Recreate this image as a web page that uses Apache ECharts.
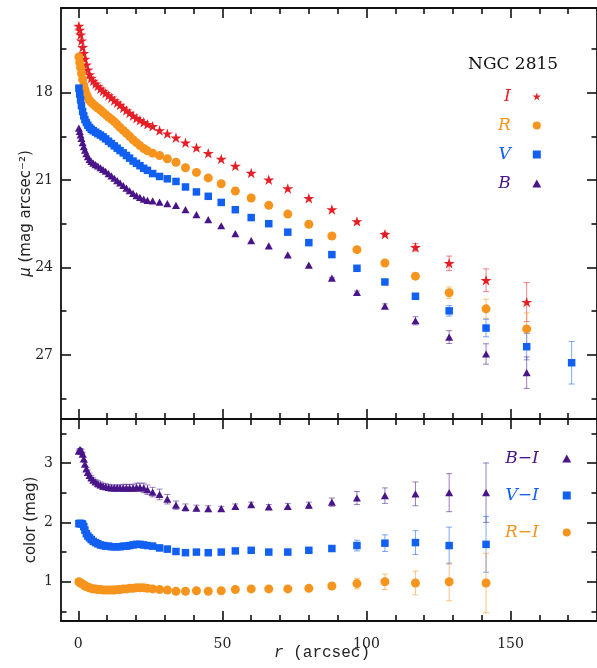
<!DOCTYPE html>
<html>
  <head>
    <meta charset="utf-8" />
    <title>NGC 2815 profiles</title>
    <script src="https://cdn.jsdelivr.net/npm/echarts@6/dist/echarts.min.js"></script>
  </head>
  <body style="margin:0; background:#fff">
    <div id="main" style="width:597px;height:668px;background-color:white"></div>
    <script type="text/javascript">
      // radii (arcsec) shared by every profile
      var radius = [0.2, 0.5, 0.8, 1.1, 1.5, 1.9, 2.3, 2.8, 3.3, 3.9, 4.5, 5.2, 6.0, 6.8, 7.7, 8.6, 9.5, 10.5, 11.5, 12.5,
        13.5, 14.5, 15.6, 16.7, 17.8, 19.0, 20.2, 21.4, 22.7, 24.0,
        25.8, 28.2, 30.9, 33.9, 37.2, 41.0, 45.1, 49.6, 54.5, 60.0, 66.1, 72.7, 80.0, 88.0, 96.7, 106.4, 117.0, 128.7,
        141.5, 155.6, 171.2];

      // surface brightness (mag arcsec^-2)
      var muI = [15.72, 15.85, 16.02, 16.22, 16.45, 16.65, 16.85, 17.05, 17.22, 17.38, 17.5, 17.6, 17.7, 17.78, 17.87, 17.95, 18.02, 18.1, 18.18, 18.27,
        18.35, 18.43, 18.53, 18.62, 18.7, 18.8, 18.88, 18.95, 19.02, 19.09,
        19.16, 19.30, 19.41, 19.55, 19.72, 19.89, 20.08, 20.28, 20.52, 20.76, 20.99, 21.29, 21.63, 22.01, 22.42, 22.86, 23.31, 23.86,
        24.44, 25.19, null];
      var muR = [16.78, 16.98, 17.15, 17.35, 17.55, 17.75, 17.9, 18.05, 18.17, 18.27, 18.34, 18.4, 18.47, 18.53, 18.6, 18.68, 18.76, 18.84, 18.92, 19.0,
        19.1, 19.2, 19.3, 19.4, 19.5, 19.62, 19.72, 19.82, 19.92, 20.0,
        20.08, 20.16, 20.27, 20.39, 20.58, 20.74, 20.93, 21.13, 21.38, 21.62, 21.87, 22.17, 22.52, 22.92, 23.39, 23.85, 24.30, 24.87,
        25.42, 26.11, null];
      var muV = [17.85, 18.05, 18.25, 18.45, 18.65, 18.8, 18.93, 19.03, 19.12, 19.2, 19.26, 19.31, 19.36, 19.41, 19.46, 19.52, 19.59, 19.67, 19.75, 19.83,
        19.91, 19.99, 20.07, 20.16, 20.25, 20.35, 20.43, 20.51, 20.6, 20.67,
        20.78, 20.88, 20.96, 21.05, 21.24, 21.41, 21.56, 21.77, 22.02, 22.29, 22.50, 22.79, 23.15, 23.56, 24.03, 24.50, 24.99, 25.49,
        26.08, 26.72, 27.27];
      var muB = [19.22, 19.33, 19.45, 19.57, 19.72, 19.86, 19.98, 20.1, 20.2, 20.29, 20.36, 20.42, 20.47, 20.52, 20.58, 20.64, 20.7, 20.78, 20.86, 20.94,
        21.02, 21.1, 21.19, 21.28, 21.37, 21.46, 21.54, 21.6, 21.66, 21.7,
        21.72, 21.76, 21.81, 21.87, 22.02, 22.19, 22.36, 22.57, 22.84, 23.08, 23.26, 23.57, 23.92, 24.37, 24.86, 25.33, 25.83, 26.39,
        26.97, 27.61, null];

      // errors on mu, only the outer points have visible bars
      var errI = [0, 0, 0, 0, 0, 0, 0, 0, 0, 0, 0, 0, 0, 0, 0, 0, 0, 0, 0, 0, 0, 0, 0, 0, 0, 0, 0, 0, 0, 0,
        0, 0, 0, 0, 0, 0, 0, 0, 0, 0, 0, 0, 0, 0, 0.03, 0.06, 0.13, 0.25, 0.39, 0.67, 0];
      var errR = [0, 0, 0, 0, 0, 0, 0, 0, 0, 0, 0, 0, 0, 0, 0, 0, 0, 0, 0, 0, 0, 0, 0, 0, 0, 0, 0, 0, 0, 0,
        0, 0, 0, 0, 0, 0, 0, 0, 0, 0, 0, 0, 0, 0, 0.03, 0.05, 0.1, 0.2, 0.33, 0.55, 0];
      var errV = [0, 0, 0, 0, 0, 0, 0, 0, 0, 0, 0, 0, 0, 0, 0, 0, 0, 0, 0, 0, 0, 0, 0, 0, 0, 0, 0, 0, 0, 0,
        0, 0, 0, 0, 0, 0, 0, 0, 0, 0, 0, 0, 0, 0, 0.03, 0.05, 0.1, 0.18, 0.3, 0.45, 0.73];
      var errB = [0, 0, 0, 0, 0, 0, 0, 0, 0, 0, 0, 0, 0, 0, 0, 0, 0, 0, 0, 0, 0, 0, 0, 0, 0, 0, 0, 0, 0, 0,
        0, 0, 0, 0, 0, 0, 0, 0, 0, 0, 0, 0, 0, 0.03, 0.05, 0.08, 0.14, 0.22, 0.35, 0.54, 0];

      // colour profiles (mag)
      var colBI = [3.2, 3.22, 3.22, 3.2, 3.15, 3.07, 2.98, 2.9, 2.84, 2.79, 2.75, 2.71, 2.68, 2.65, 2.63, 2.61, 2.6, 2.59, 2.58, 2.58,
        2.58, 2.58, 2.58, 2.58, 2.58, 2.58, 2.59, 2.59, 2.58, 2.55,
        2.51, 2.47, 2.39, 2.29, 2.25, 2.24, 2.23, 2.23, 2.27, 2.30, 2.26, 2.27, 2.29, 2.34, 2.41, 2.45, 2.48, 2.50, 2.50, null, null];
      var colVI = [1.98, 1.98, 1.98, 1.98, 1.97, 1.93, 1.87, 1.81, 1.77, 1.74, 1.71, 1.68, 1.66, 1.64, 1.62, 1.61, 1.6, 1.6, 1.59, 1.59,
        1.59, 1.59, 1.6, 1.6, 1.61, 1.62, 1.63, 1.63, 1.62, 1.61,
        1.60, 1.57, 1.55, 1.51, 1.49, 1.50, 1.49, 1.50, 1.52, 1.53, 1.50, 1.50, 1.53, 1.56, 1.61, 1.65, 1.66, 1.61, 1.63, null, null];
      var colRI = [1.0, 0.99, 0.98, 0.97, 0.96, 0.95, 0.93, 0.92, 0.91, 0.9, 0.89, 0.88, 0.88, 0.87, 0.87, 0.86, 0.86, 0.86, 0.86, 0.86,
        0.87, 0.87, 0.88, 0.88, 0.89, 0.89, 0.9, 0.9, 0.9, 0.89,
        0.88, 0.87, 0.86, 0.84, 0.84, 0.85, 0.84, 0.85, 0.87, 0.88, 0.88, 0.88, 0.89, 0.93, 0.97, 1.0, 0.98, 1.0, 0.98, null, null];

      var errBI = [0.02, 0.02, 0.02, 0.03, 0.03, 0.03, 0.03, 0.03, 0.04, 0.04, 0.04, 0.04, 0.04, 0.05, 0.05, 0.05, 0.05, 0.05, 0.05, 0.05,
        0.05, 0.05, 0.06, 0.06, 0.06, 0.06, 0.07, 0.07, 0.08, 0.08,
        0.08, 0.09, 0.08, 0.07, 0.06, 0.05, 0.05, 0.04, 0.04, 0.04, 0.04, 0.05, 0.05, 0.07, 0.11, 0.13, 0.2, 0.32, 0.5, 0, 0];
      var errVI = [0.02, 0.02, 0.02, 0.02, 0.02, 0.02, 0.02, 0.03, 0.03, 0.03, 0.03, 0.03, 0.03, 0.03, 0.03, 0.03, 0.03, 0.03, 0.03, 0.03,
        0.03, 0.03, 0.04, 0.04, 0.04, 0.04, 0.05, 0.05, 0.05, 0.05,
        0.05, 0.05, 0.05, 0.04, 0.04, 0.04, 0.03, 0.03, 0.03, 0.03, 0.03, 0.03, 0.04, 0.05, 0.09, 0.14, 0.2, 0.31, 0.47, 0, 0];
      var errRI = [0.02, 0.02, 0.02, 0.02, 0.02, 0.02, 0.02, 0.03, 0.03, 0.03, 0.03, 0.03, 0.03, 0.03, 0.03, 0.03, 0.03, 0.03, 0.03, 0.03,
        0.03, 0.03, 0.04, 0.04, 0.04, 0.04, 0.05, 0.05, 0.05, 0.05,
        0.05, 0.05, 0.05, 0.04, 0.04, 0.04, 0.03, 0.03, 0.03, 0.03, 0.03, 0.03, 0.04, 0.05, 0.09, 0.13, 0.2, 0.32, 0.5, 0, 0];

      // ticks
      var xMajor = [0, 50, 100, 150];
      var xMinor = [10, 20, 30, 40, 60, 70, 80, 90, 110, 120, 130, 140, 160, 170];
      var muMajor = [18, 21, 24, 27];
      var muMinor = [16.5, 19.5, 22.5, 25.5, 28.5];
      var colMajor = [1, 2, 3];
      var colMinor = [0.5, 1.5, 2.5, 3.5];

      var RED = '#e61e26';
      var ORANGE = '#f7941d';
      var BLUE = '#1160f2';
      var PURPLE = '#4a1489';
      var STAR = 'path://M50 0 L61.23 34.55 L97.55 34.55 L68.17 55.9 L79.39 90.45 L50 69.1 L20.61 90.45 L31.83 55.9 L2.45 34.55 L38.77 34.55 Z';
      var SQUARE = 'path://M0 0 L10 0 L10 10 L0 10 Z';
      var TRIANGLE = 'path://M5 0 L10 9 L0 9 Z';
      var INK = '#111';
      var SERIF = 'DejaVu Serif';

      var myChart = echarts.init(document.getElementById('main'));

      // one axis per tick family, so major and minor ticks can have their own length
      function makeAxis(kind, grid, pos, ticks, len, showLine) {
        var ax = {
          type: 'value',
          gridIndex: grid,
          position: pos,
          splitLine: { show: false },
          axisLine: { show: showLine, onZero: false, lineStyle: { color: INK, width: 1.8 } },
          axisTick: { show: true, inside: true, length: len, customValues: ticks, lineStyle: { color: INK, width: 1.6 } },
          axisLabel: { show: false }
        };
        if (kind === 'x') {
          ax.min = -6;
          ax.max = 180;
        } else if (grid === 0) {
          ax.min = 15.1;
          ax.max = 29.2;
          ax.inverse = true;
        } else {
          ax.min = 0.34;
          ax.max = 3.74;
        }
        return ax;
      }

      var tickLabel = { fontFamily: SERIF, fontSize: 14, color: '#222' };

      var xAxes = [];
      var yAxes = [];
      [0, 1].forEach(function (g) {
        var xb = makeAxis('x', g, 'bottom', xMajor, 10, true);
        if (g === 1) {
          xb.axisLabel = Object.assign({ show: true, margin: 16, customValues: xMajor }, tickLabel);
          xb.name = '{i|r} (arcsec)';
          xb.nameLocation = 'middle';
          xb.nameGap = 24;
          xb.nameMoveOverlap = false;
          xb.nameTextStyle = {
            fontFamily: 'Liberation Mono', fontSize: 16, color: '#222', padding: [0, 14, 0, 0],
            rich: { i: { fontFamily: 'Liberation Mono', fontSize: 16, fontStyle: 'italic', color: '#222' } }
          };
        }
        xAxes.push(xb);
        xAxes.push(makeAxis('x', g, 'top', xMajor, 10, true));
        xAxes.push(makeAxis('x', g, 'bottom', xMinor, 6, false));
        xAxes.push(makeAxis('x', g, 'top', xMinor, 6, false));

        var major = g === 0 ? muMajor : colMajor;
        var minor = g === 0 ? muMinor : colMinor;
        var yl = makeAxis('y', g, 'left', major, 10, true);
        yl.axisLabel = Object.assign({ show: true, margin: 8, customValues: major }, tickLabel);
        yl.name = g === 0 ? '{i|μ} (mag arcsec⁻²)' : 'color (mag)';
        yl.nameLocation = 'middle';
        yl.nameGap = g === 0 ? 27 : 22;
        yl.nameMoveOverlap = false;
        yl.nameTextStyle = {
          fontFamily: 'DejaVu Sans', fontSize: 15, color: '#222',
          rich: { i: { fontFamily: 'DejaVu Sans', fontSize: 15, fontStyle: 'italic', color: '#222' } }
        };
        yAxes.push(yl);
        yAxes.push(makeAxis('y', g, 'right', major, 10, true));
        yAxes.push(makeAxis('y', g, 'left', minor, 5.5, false));
        yAxes.push(makeAxis('y', g, 'right', minor, 5.5, false));
      });

      function errorBar(params, api) {
        var x = api.value(0), y = api.value(1), e = api.value(2);
        var a = api.coord([x, y - e]);
        var b = api.coord([x, y + e]);
        var st = { stroke: api.visual('color'), lineWidth: 1, opacity: 0.55 };
        return {
          type: 'group',
          children: [
            { type: 'line', shape: { x1: a[0], y1: a[1], x2: b[0], y2: b[1] }, style: st },
            { type: 'line', shape: { x1: a[0] - 3, y1: a[1], x2: a[0] + 3, y2: a[1] }, style: st },
            { type: 'line', shape: { x1: b[0] - 3, y1: b[1], x2: b[0] + 3, y2: b[1] }, style: st }
          ]
        };
      }

      var profiles = [
        { name: 'I', grid: 0, vals: muI, errs: errI, color: RED, symbol: STAR, size: 11 },
        { name: 'R', grid: 0, vals: muR, errs: errR, color: ORANGE, symbol: 'circle', size: 9 },
        { name: 'V', grid: 0, vals: muV, errs: errV, color: BLUE, symbol: SQUARE, size: 7.5 },
        { name: 'B', grid: 0, vals: muB, errs: errB, color: PURPLE, symbol: TRIANGLE, size: 8 },
        { name: 'B−I', grid: 1, vals: colBI, errs: errBI, color: PURPLE, symbol: TRIANGLE, size: 8 },
        { name: 'V−I', grid: 1, vals: colVI, errs: errVI, color: BLUE, symbol: SQUARE, size: 7.5 },
        { name: 'R−I', grid: 1, vals: colRI, errs: errRI, color: ORANGE, symbol: 'circle', size: 9 }
      ];

      var series = [];
      profiles.forEach(function (p) {
        var bars = [];
        radius.forEach(function (r, i) {
          if (p.vals[i] != null && p.errs[i] > 0) bars.push([r, p.vals[i], p.errs[i]]);
        });
        series.push({
          name: p.name + ' err',
          type: 'custom',
          xAxisIndex: p.grid * 4,
          yAxisIndex: p.grid * 4,
          itemStyle: { color: p.color },
          renderItem: errorBar,
          encode: { x: 0, y: 1 },
          silent: true,
          data: bars
        });
      });
      profiles.forEach(function (p) {
        var pts = [];
        radius.forEach(function (r, i) {
          if (p.vals[i] != null) pts.push([r, p.vals[i]]);
        });
        series.push({
          name: p.name,
          type: 'scatter',
          xAxisIndex: p.grid * 4,
          yAxisIndex: p.grid * 4,
          symbol: p.symbol,
          symbolSize: p.size,
          symbolKeepAspect: true,
          itemStyle: { color: p.color, opacity: 1 },
          data: pts
        });
      });

      function legendItems(list) {
        return list.map(function (p) {
          return { name: p.name, icon: p.symbol, textStyle: { color: p.color } };
        });
      }

      var option = {
        animation: false,
        backgroundColor: '#fff',
        title: {
          text: 'NGC 2815',
          left: 463,
          top: 51,
          textStyle: { fontFamily: SERIF, fontSize: 17, fontWeight: 'normal', color: INK }
        },
        legend: [{
          data: legendItems(profiles.slice(0, 4)),
          orient: 'vertical',
          left: 493,
          top: 83,
          align: 'right',
          itemWidth: 42,
          itemHeight: 8,
          itemGap: 12,
          selectedMode: false,
          symbolKeepAspect: true,
          textStyle: { fontFamily: SERIF, fontStyle: 'italic', fontSize: 17 }
        }, {
          data: legendItems(profiles.slice(4)),
          orient: 'vertical',
          left: 500,
          top: 445,
          align: 'right',
          itemWidth: 46,
          itemHeight: 8,
          itemGap: 20,
          selectedMode: false,
          symbolKeepAspect: true,
          textStyle: { fontFamily: SERIF, fontStyle: 'italic', fontSize: 17 }
        }],
        grid: [
          { left: 61, top: 8, width: 539, height: 411 },
          { left: 61, top: 419, width: 539, height: 202 }
        ],
        xAxis: xAxes,
        yAxis: yAxes,
        series: series
      };

      myChart.setOption(option);
    </script>
  </body>
</html>
